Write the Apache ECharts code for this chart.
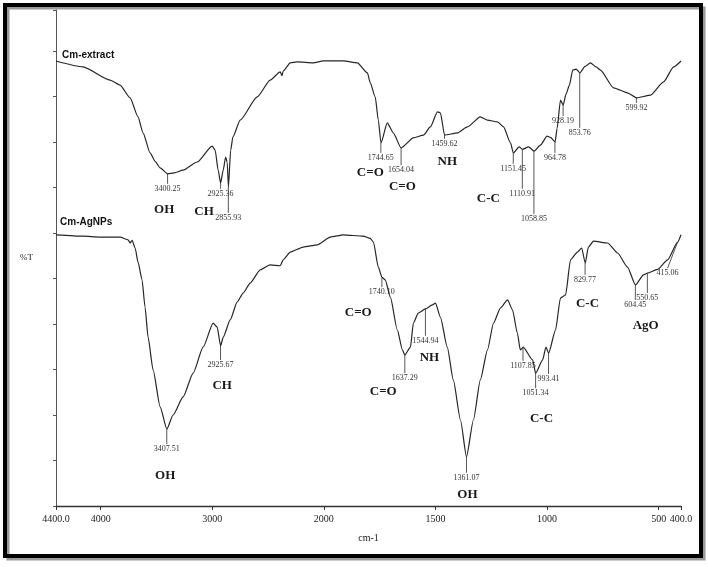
<!DOCTYPE html>
<html>
<head>
<meta charset="utf-8">
<script src="https://cdn.jsdelivr.net/npm/echarts@6/dist/echarts.min.js"></script>
<style>
html,body{margin:0;padding:0;background:#fff;}
#chart{width:708px;height:567px;}
</style>
</head>
<body>
<div id="chart"></div>
<script>
// ---- data (wavenumber cm-1, %T in arbitrary units) ----
const extractWn = [4400,4158,3916,3826,3736,3665,3620,3557,3510,3467,3400,3340,3261,3135,3001,2974,2947,2925,2902,2880,2866,2855,2835,2815,2750,2597,2481,2391,2375,2364,2301,2239,2095,2005,1913,1850,1805,1792,1770,1756,1744,1716,1689,1654,1599,1554,1523,1491,1478,1459,1402,1357,1299,1267,1222,1195,1164,1151,1125,1110,1083,1058,1030,1000,985,964,955,940,928,915,900,885,870,853,830,806,780,761,702,640,599,536,478,433,400];
const extractT = [97.8,96.5,93.6,92.5,89.7,85.5,82.0,77.6,75.7,74.3,73.0,73.2,73.8,75.6,79.1,78.2,73.8,71.0,73.8,76.7,75.5,70.1,78.2,81.1,84.8,89.9,93.6,95.4,94.6,95.6,97.4,97.6,97.4,97.8,97.8,97.4,95.2,93.0,89.9,84.8,79.8,84.2,82.0,78.7,80.9,81.5,83.3,86.6,86.4,81.5,82.0,83.3,85.5,84.8,84.4,83.3,79.8,77.6,78.9,78.4,78.9,78.0,79.3,81.3,81.0,80.0,83.0,89.2,88.1,90.5,92.5,95.8,96.0,95.2,96.6,97.4,96.5,95.8,91.9,90.8,89.7,90.3,93.2,96.5,97.8];

const agnpWn = [4400,4158,4005,3826,3754,3736,3718,3691,3665,3629,3602,3575,3530,3467,3407,3351,3261,3171,3082,2992,2956,2925,2902,2839,2777,2723,2660,2570,2481,2391,2364,2301,2185,2059,1971,1913,1823,1792,1778,1756,1740,1725,1702,1671,1648,1637,1612,1599,1577,1545,1514,1500,1478,1447,1420,1388,1361,1330,1299,1267,1240,1209,1177,1155,1133,1120,1107,1065,1051,1020,1005,993,962,940,917,895,864,845,829,815,792,729,684,640,604,568,550,505,460,415,400];
const agnpT = [59.6,59.3,59.1,59.1,58.5,57.8,58.4,56.7,53.6,49.7,43.7,37.1,29.9,21.8,16.9,20.0,24.0,29.2,34.9,40.2,39.3,35.2,37.1,40.9,44.8,46.8,49.0,51.9,53.0,52.8,54.1,55.8,56.9,57.4,59.1,59.6,59.3,58.8,58.0,52.5,50.3,49.7,45.9,38.7,34.3,33.2,34.9,40.2,42.4,43.3,44.2,44.6,41.5,34.9,27.7,18.9,10.8,18.9,27.7,34.3,40.2,43.5,45.3,43.1,38.0,34.3,34.9,32.1,29.2,32.1,34.9,33.6,38.7,45.7,46.4,54.1,55.8,56.7,53.4,56.9,58.2,57.8,55.6,52.5,48.6,50.8,51.2,52.0,54.1,58.0,59.6];

const xTickWn = [4400,4000,3000,2000,1500,1000,500,400];
const xTickLabels = ['4400.0','4000','3000','2000','1500','1000','500','400.0'];

// peak annotations
const extractPeakWn = [3400.25,2925.36,2855.93,1744.65,1654.04,1459.62,1151.45,1110.91,1058.85,964.78,928.19,853.76,599.92];
const extractPeakLabels = ['3400.25','2925.36','2855.93','1744.65','1654.04','1459.62','1151.45','1110.91','1058.85','964.78','928.19','853.76','599.92'];
const extractPeakCurveT = [73.0,71.0,70.1,79.8,78.7,81.5,77.6,78.4,78.0,80.0,88.1,95.2,89.7];
const extractPeakEndT = [70.8,69.7,64.4,77.6,74.9,80.7,75.2,69.7,64.2,77.6,85.7,83.1,88.6];

const agnpPeakWn = [3407.51,2925.67,1740.10,1637.29,1544.94,1361.07,1107.85,1051.34,993.41,829.77,604.45,550.65,415.06];
const agnpPeakLabels = ['3407.51','2925.67','1740.10','1637.29','1544.94','1361.07','1107.85','1051.34','993.41','829.77','604.45','550.65','415.06'];
const agnpPeakCurveT = [16.9,35.2,50.3,33.2,43.3,10.8,34.9,29.2,33.6,53.4,48.6,51.2,58.0];
const agnpPeakEndT = [13.6,32.1,48.1,29.2,37.4,7.3,31.9,25.9,29.0,50.8,45.3,46.8,52.3];
const agnpPeakTextWn = [3407.51,2925.67,1740.10,1637.29,1544.94,1361.07,1107.85,1051.34,993.41,829.77,604.45,550.65,460];

// functional-group labels
const groupText = ['OH','CH','C=O','C=O','NH','C-C','OH','CH','C=O','C=O','NH','C-C','OH','C-C','AgO'];
const groupWn = [3431,3073,1792,1648,1447,1263,3422,2911,1846,1734,1527,1025,1357,819,558];
const groupT = [65.1,64.6,73.2,70.1,75.6,67.5,6.6,26.4,42.4,25.1,32.7,19.3,2.6,44.4,39.6];

const seriesNames = ['Cm-extract','Cm-AgNPs'];
const seriesNameWn = [4346,4364];
const seriesNameT = [99.1,62.4];

// piecewise instrument scale: 4400-2000 compressed, 2000-400 expanded x2
function toP(w){ return w >= 2000 ? 4400 - w : 2400 + (2000 - w) * 2; }

const tickP = xTickWn.map(toP);
function tickLabel(v){
  for (let i = 0; i < tickP.length; i++) if (Math.abs(tickP[i] - v) < 1) return xTickLabels[i];
  return '';
}

const peakData = [];
const peakText = [];
extractPeakWn.forEach((w,i)=>{ peakData.push([toP(w), extractPeakCurveT[i], extractPeakEndT[i], toP(w), peakText.length]); peakText.push(extractPeakLabels[i]); });
agnpPeakWn.forEach((w,i)=>{ peakData.push([toP(w), agnpPeakCurveT[i], agnpPeakEndT[i], toP(agnpPeakTextWn[i]), peakText.length]); peakText.push(agnpPeakLabels[i]); });

const chart = echarts.init(document.getElementById('chart'), null, {renderer:'canvas'});
chart.setOption({
  animation:false,
  backgroundColor:'#fff',
  grid:{left:56, right:27, top:10, bottom:61, containLabel:false},
  xAxis:{
    type:'value', min:0, max:5600,
    name:'cm-1', nameLocation:'middle', nameGap:27,
    nameTextStyle:{fontFamily:'Liberation Serif', fontSize:10, color:'#222'},
    axisLine:{lineStyle:{color:'#333', width:1.3}},
    axisTick:{show:true, length:4, customValues:tickP, lineStyle:{color:'#333'}},
    axisLabel:{customValues:tickP, formatter:tickLabel, fontFamily:'Liberation Serif', fontSize:10, color:'#222', margin:8},
    splitLine:{show:false}
  },
  yAxis:{
    type:'value', min:0, max:109, interval:10,
    name:'%T', nameLocation:'middle', nameRotate:0, nameGap:23,
    nameTextStyle:{fontFamily:'Liberation Serif', fontSize:9, color:'#222', padding:[14,0,0,0]},
    axisLine:{show:true, lineStyle:{color:'#555', width:1}},
    axisTick:{show:true, length:3, lineStyle:{color:'#555'}},
    axisLabel:{show:false},
    splitLine:{show:false}
  },
  graphic:[
    {type:'rect', shape:{x:8, y:8, width:696, height:551}, style:{fill:'none', stroke:'#9a9a9a', lineWidth:3}, z:-1},
    {type:'rect', shape:{x:5, y:5, width:696, height:551}, style:{fill:'none', stroke:'#000', lineWidth:4}, z:0}
  ],
  series:[
    {type:'line', name:seriesNames[0], showSymbol:false, clip:false, smooth:0.2, smoothMonotone:'x',
     data:extractWn.map((w,i)=>[toP(w), extractT[i]]),
     lineStyle:{color:'#262626', width:1.2}},
    {type:'line', name:seriesNames[1], showSymbol:false, clip:false, smooth:0.2, smoothMonotone:'x',
     data:agnpWn.map((w,i)=>[toP(w), agnpT[i]]),
     lineStyle:{color:'#262626', width:1.2}},
    {type:'custom', name:'peaks', clip:false,
     data:peakData,
     renderItem:function(params, api){
       const a = api.coord([api.value(0), api.value(1)]);
       const b = api.coord([api.value(3), api.value(2)]);
       const txt = peakText[api.value(4)];
       return {type:'group', children:[
         {type:'line', shape:{x1:a[0], y1:a[1], x2:b[0], y2:b[1]}, style:{stroke:'#444', lineWidth:0.9}},
         {type:'text', style:{text:txt, x:b[0], y:b[1]+1, align:'center', verticalAlign:'top', font:'8px "Liberation Serif"', fill:'#333'}}
       ]};
     }},
    {type:'custom', name:'groups', clip:false,
     data:groupWn.map((w,i)=>[toP(w), groupT[i], i]),
     renderItem:function(params, api){
       const c = api.coord([api.value(0), api.value(1)]);
       return {type:'text', style:{text:groupText[api.value(2)], x:c[0], y:c[1], align:'center', verticalAlign:'middle', font:'bold 13px "Liberation Serif"', fill:'#1a1a1a'}};
     }},
    {type:'custom', name:'names', clip:false,
     data:seriesNameWn.map((w,i)=>[toP(w), seriesNameT[i], i]),
     renderItem:function(params, api){
       const c = api.coord([api.value(0), api.value(1)]);
       return {type:'text', style:{text:seriesNames[api.value(2)], x:c[0], y:c[1], align:'left', verticalAlign:'middle', font:'bold 10px "Liberation Sans"', fill:'#111'}};
     }}
  ]
});
</script>
</body>
</html>
